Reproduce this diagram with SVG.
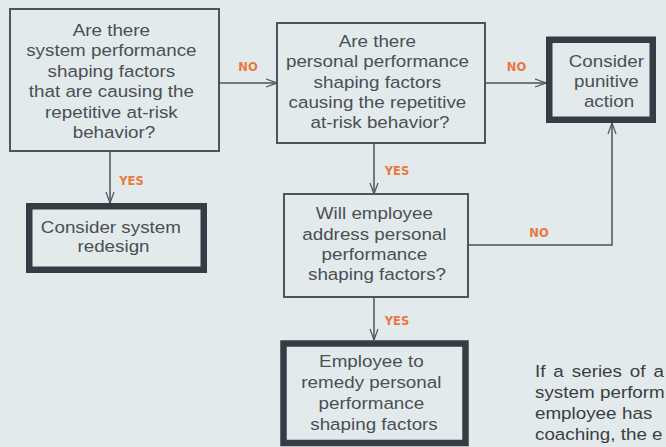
<svg xmlns="http://www.w3.org/2000/svg" width="666" height="447" viewBox="0 0 666 447">
<style>
.bg{fill:#e3eaec}
.thin{fill:#e3eaec;stroke:#4d545a;stroke-width:2}
.thick{fill:#e3eaec;stroke:#363c44;stroke-width:6.5}
.t{font-family:"Liberation Sans",Arial,sans-serif;font-size:16.5px;fill:#4a4f55;text-anchor:middle}
.p{font-family:"Liberation Sans",Arial,sans-serif;font-size:16.5px;fill:#3a3d40}
.lbl{font-family:"DejaVu Sans",sans-serif;font-weight:bold;font-size:11.5px;fill:#e9783f;text-anchor:middle}
.c{fill:none;stroke:#4d545a;stroke-width:1.5}
</style>
<defs>
<marker id="arr" markerUnits="userSpaceOnUse" viewBox="0 0 12 10" refX="12" refY="5" markerWidth="12" markerHeight="10" orient="auto">
<path d="M1,1 L12,5 L1,9" fill="none" stroke="#4d545a" stroke-width="1.2"/>
</marker>
</defs>
<rect class="bg" x="0" y="0" width="666" height="447"/>

<g id="connectors">
<path class="c" d="M110,151 V203" marker-end="url(#arr)"/>
<path class="c" d="M219,83 H277" marker-end="url(#arr)"/>
<path class="c" d="M485,83 H546" marker-end="url(#arr)"/>
<path class="c" d="M374,143 V194" marker-end="url(#arr)"/>
<path class="c" d="M374,297 V340" marker-end="url(#arr)"/>
<path class="c" d="M468,245 H612 V123" marker-end="url(#arr)"/>
<text class="lbl" x="248" y="71">NO</text>
<text class="lbl" x="516.5" y="71">NO</text>
<text class="lbl" x="131.5" y="185">YES</text>
<text class="lbl" x="397" y="175">YES</text>
<text class="lbl" x="397" y="325">YES</text>
<text class="lbl" x="539" y="237">NO</text>
</g>

<g id="q-system">
<rect class="thin" x="10" y="9" width="209" height="142"/>
<text class="t" transform="translate(114 0) scale(1.14 1)">
<tspan x="0" y="36">Are there</tspan>
<tspan x="0" y="56.5">system performance</tspan>
<tspan x="0" y="77">shaping factors</tspan>
<tspan x="0" y="97.5">that are causing the</tspan>
<tspan x="0" y="118">repetitive at-risk</tspan>
<tspan x="0" y="138.5">behavior?</tspan>
</text>
</g>

<g id="q-personal">
<rect class="thin" x="277" y="23" width="208" height="120"/>
<text class="t" transform="translate(380 0) scale(1.14 1)">
<tspan x="0" y="47">Are there</tspan>
<tspan x="0" y="67.5">personal performance</tspan>
<tspan x="0" y="88">shaping factors</tspan>
<tspan x="0" y="108">causing the repetitive</tspan>
<tspan x="0" y="128">at-risk behavior?</tspan>
</text>
</g>

<g id="punitive">
<rect class="thick" x="549.25" y="39.75" width="103.5" height="80"/>
<text class="t" transform="translate(609 0) scale(1.14 1)">
<tspan x="0" y="67.5">Consider</tspan>
<tspan x="0" y="87.5">punitive</tspan>
<tspan x="0" y="107.5">action</tspan>
</text>
</g>

<g id="redesign">
<rect class="thick" x="29.25" y="206.25" width="174.5" height="63.5"/>
<text class="t" transform="translate(113.5 0) scale(1.14 1)">
<tspan x="0" y="233">Consider system</tspan>
<tspan x="0" y="252.5">redesign</tspan>
</text>
</g>

<g id="q-address">
<rect class="thin" x="284" y="194" width="184" height="103"/>
<text class="t" transform="translate(377 0) scale(1.14 1)">
<tspan x="0" y="219.5">Will employee</tspan>
<tspan x="0" y="240">address personal</tspan>
<tspan x="0" y="260">performance</tspan>
<tspan x="0" y="280.5">shaping factors?</tspan>
</text>
</g>

<g id="remedy">
<rect class="thick" x="283.5" y="343.5" width="182" height="99.5"/>
<text class="t" transform="translate(374 0) scale(1.14 1)">
<tspan x="0" y="367.5">Employee to</tspan>
<tspan x="0" y="388">remedy personal</tspan>
<tspan x="0" y="409">performance</tspan>
<tspan x="0" y="430">shaping factors</tspan>
</text>
</g>

<g id="note">
<text class="p" transform="translate(535 0) scale(1.14 1)">
<tspan x="0" y="377">If</tspan><tspan x="16.1" y="377">a</tspan><tspan x="32.3" y="377">series</tspan><tspan x="83.2" y="377">of</tspan><tspan x="103.9" y="377">a</tspan>
<tspan x="0" y="398">system</tspan><tspan x="57" y="398">perform</tspan>
<tspan x="0" y="419">employee</tspan><tspan x="76.3" y="419">has</tspan>
<tspan x="0" y="440">coaching, the e</tspan>
</text>
</g>
</svg>
